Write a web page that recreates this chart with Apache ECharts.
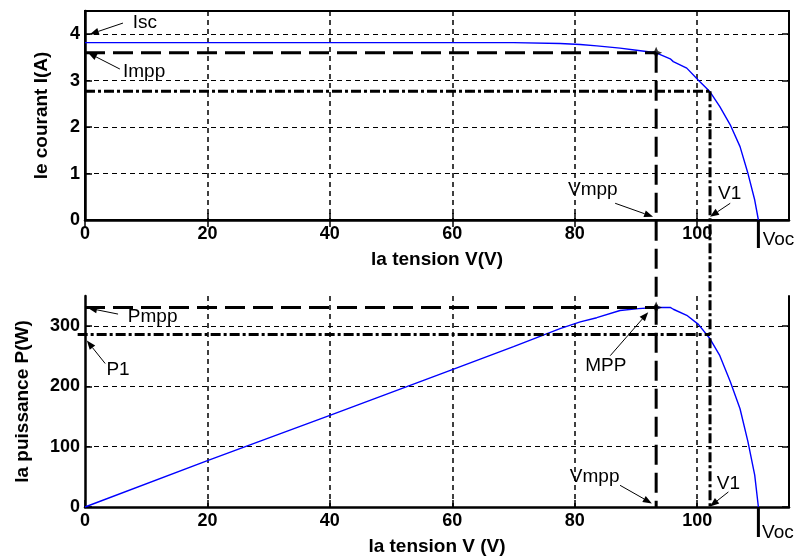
<!DOCTYPE html>
<html>
<head>
<meta charset="utf-8">
<script src="https://cdn.jsdelivr.net/npm/echarts@6/dist/echarts.min.js"></script>
<style>
  html, body { margin: 0; padding: 0; background: #fff; }
  #chart { width: 799px; height: 557px; }
</style>
</head>
<body>
<div id="chart"></div>
<script>
// Photovoltaic module characteristics: I(V) and P(V)
const voltage = [0, 20, 40, 60, 70, 77.6, 80.9, 83.6, 87.4, 90.4, 93.3, 95.6, 96.1, 98.3, 100.2, 102.1, 103.7, 105.4, 107.0, 108.3, 109.4, 110];
const current = [3.82, 3.82, 3.82, 3.82, 3.82, 3.80, 3.78, 3.75, 3.70, 3.65, 3.60, 3.47, 3.41, 3.27, 3.01, 2.76, 2.44, 2.05, 1.58, 1.00, 0.43, 0];
const power   = [0, 77, 152, 228, 266, 296, 307, 314, 326, 329, 331, 331, 328, 318, 303, 279, 251, 208, 163, 108, 53, 0];

const voltageTicks = [0, 20, 40, 60, 80, 100];
const currentTicks = [0, 1, 2, 3, 4];
const powerTicks = [0, 100, 200, 300];

// Operating points
const Vmpp = 93.3, Impp = 3.6, Pmpp = 331;
const V1 = 102.1, I1 = 2.77, P1 = 286;
const Voc = 110;

const FONT = '"Liberation Sans", Arial, Helvetica, sans-serif';
const BLACK = '#000';
const NONE = 'rgba(0,0,0,0)';

function gridLineColors(n) {
  // the line at zero sits on the axis and the one at the axis maximum stays hidden
  const c = [NONE];
  for (let i = 1; i < n; i++) c.push(BLACK);
  c.push(NONE);
  return c;
}

const tickLabel = { color: BLACK, fontFamily: FONT, fontSize: 18, fontWeight: 'bold' };
const nameStyle = { color: BLACK, fontFamily: FONT, fontSize: 19, fontWeight: 'bold' };
const tickStyle = (ticks) => ({ show: true, inside: true, length: 7, customValues: ticks, lineStyle: { color: BLACK, width: 1.5 } });

function mainX(gridIndex, name) {
  return {
    type: 'value', gridIndex, min: 0, max: 115, interval: 20, position: 'bottom',
    name, nameLocation: 'middle', nameGap: 30, nameTextStyle: nameStyle,
    axisLine: { show: true, onZero: false, lineStyle: { color: BLACK, width: 2.5 } },
    axisTick: tickStyle(voltageTicks),
    axisLabel: { ...tickLabel, margin: 5, customValues: voltageTicks, formatter: v => (voltageTicks.includes(v) ? String(v) : '') },
    splitLine: { show: true, lineStyle: { color: gridLineColors(voltageTicks.length), type: [5, 4], width: 1.5 } }
  };
}
function mirrorX(gridIndex) {
  return {
    type: 'value', gridIndex, min: 0, max: 115, interval: 20, position: 'top',
    axisLine: { show: false },
    axisTick: tickStyle(voltageTicks),
    axisLabel: { show: false }, splitLine: { show: false }
  };
}
function mainY(gridIndex, max, interval, ticks, name, nameGap) {
  return {
    type: 'value', gridIndex, min: 0, max, interval, position: 'left',
    name, nameLocation: 'middle', nameGap, nameTextStyle: nameStyle,
    axisLine: { show: true, onZero: false, lineStyle: { color: BLACK, width: 2.5 } },
    axisTick: tickStyle(ticks),
    axisLabel: { ...tickLabel, margin: 5, customValues: ticks, formatter: v => (ticks.includes(v) ? String(v) : '') },
    splitLine: { show: true, lineStyle: { color: gridLineColors(ticks.length), type: [5, 4], width: 1.2 } }
  };
}
function mirrorY(gridIndex, max, interval, ticks, showLine) {
  return {
    type: 'value', gridIndex, min: 0, max, interval, position: 'right',
    axisLine: { show: showLine, onZero: false, lineStyle: { color: BLACK, width: 2 } },
    axisTick: tickStyle(ticks),
    axisLabel: { show: false }, splitLine: { show: false }
  };
}

const mppSymbol = 'path://M0,-6 L1.8,-1.8 L6,0 L1.8,1.8 L0,6 L-1.8,1.8 L-6,0 L-1.8,-1.8 Z';

const option = {
  animation: false,
  backgroundColor: '#fff',
  grid: [
    { left: 85, right: 10, top: 11, height: 209, show: true, borderColor: BLACK, borderWidth: 2, backgroundColor: NONE },
    { left: 85, right: 10, top: 296, height: 211 }
  ],
  xAxis: [mainX(0, 'la tension V(V)'), mirrorX(0), mainX(1, 'la tension V (V)')],
  yAxis: [
    mainY(0, 4.5, 1, currentTicks, 'le courant I(A)', 34),
    mirrorY(0, 4.5, 1, currentTicks, false),
    mainY(1, 350, 100, powerTicks, 'la puissance P(W)', 53),
    mirrorY(1, 350, 100, powerTicks, true)
  ],
  series: [
    {
      type: 'line', xAxisIndex: 0, yAxisIndex: 0,
      data: voltage.map((v, i) => [v, current[i]]),
      showSymbol: false, smooth: false,
      lineStyle: { color: '#0000ff', width: 1.4 }, z: 3
    },
    {
      type: 'scatter', xAxisIndex: 0, yAxisIndex: 0,
      data: [[Vmpp, Impp]], symbol: mppSymbol, symbolSize: 12,
      itemStyle: { color: BLACK }, z: 20
    },
    {
      type: 'line', xAxisIndex: 2, yAxisIndex: 2,
      data: voltage.map((v, i) => [v, power[i]]),
      showSymbol: false, smooth: false,
      lineStyle: { color: '#0000ff', width: 1.4 }, z: 3
    },
    {
      type: 'scatter', xAxisIndex: 2, yAxisIndex: 2,
      data: [[Vmpp, Pmpp]], symbol: mppSymbol, symbolSize: 12,
      itemStyle: { color: BLACK }, z: 20
    }
  ]
};

const chart = echarts.init(document.getElementById('chart'), null, { renderer: 'canvas' });
chart.setOption(option);

// Reference lines and annotations, placed through each plot's own scales
const ivPt = (x, y) => chart.convertToPixel({ seriesIndex: 0 }, [x, y]);
const pvPt = (x, y) => chart.convertToPixel({ seriesIndex: 2 }, [x, y]);

const DASH = [20, 8];
const DASHDOT = [10, 3, 3, 3];

function seg(a, b, dash, width) {
  return {
    type: 'line', silent: true, z: 10,
    shape: { x1: a[0], y1: a[1], x2: b[0], y2: b[1] },
    style: { stroke: BLACK, lineWidth: width, lineDash: dash || null, fill: null }
  };
}
function arrow(tail, tip) {
  const dx = tip[0] - tail[0], dy = tip[1] - tail[1];
  const len = Math.hypot(dx, dy), ux = dx / len, uy = dy / len;
  const hl = 9, hw = 3.5;
  const bx = tip[0] - ux * hl, by = tip[1] - uy * hl;
  return [
    seg(tail, [bx, by], null, 1),
    {
      type: 'polygon', silent: true, z: 10,
      shape: { points: [tip, [bx - uy * hw, by + ux * hw], [bx + uy * hw, by - ux * hw]] },
      style: { fill: BLACK }
    }
  ];
}
function label(p, text) {
  return {
    type: 'text', silent: true, z: 10, x: p[0], y: p[1],
    style: { text, fontFamily: FONT, fontSize: 19, fill: BLACK, align: 'left', verticalAlign: 'middle' }
  };
}
function offset(p, dx, dy) { return [p[0] + dx, p[1] + dy]; }

const graphics = [
  // maximum power point guides
  seg(ivPt(0, Impp), ivPt(Vmpp, Impp), DASH, 3),
  seg(ivPt(Vmpp, Impp), pvPt(Vmpp, 0), DASH, 3),
  seg(pvPt(0, Pmpp), pvPt(Vmpp, Pmpp), DASH, 3),
  // operating point 1 guides
  seg(ivPt(0, I1), ivPt(V1, I1), DASHDOT, 3),
  seg(ivPt(V1, I1), pvPt(V1, 0), DASHDOT, 3),
  seg(pvPt(-1.2, P1), pvPt(V1, P1), DASHDOT, 3),
  // open-circuit voltage markers
  seg(ivPt(Voc, 0), offset(ivPt(Voc, 0), 0, 28), null, 3),
  seg(pvPt(Voc, 0), offset(pvPt(Voc, 0), 0, 30), null, 3),

  // current plot annotations
  label(ivPt(7.8, 4.24), 'Isc'),
  ...arrow(ivPt(6.2, 4.24), ivPt(0.8, 4.0)),
  label(ivPt(6.2, 3.19), 'Impp'),
  ...arrow(ivPt(5.7, 3.25), ivPt(0.5, 3.6)),
  label(ivPt(78.9, 0.65), 'Vmpp'),
  ...arrow(ivPt(86.6, 0.36), ivPt(92.8, 0.07)),
  label(ivPt(103.4, 0.57), 'V1'),
  ...arrow(ivPt(105.4, 0.36), ivPt(102.1, 0.07)),
  label(ivPt(110.7, -0.43), 'Voc'),

  // power plot annotations
  label(pvPt(7.0, 315), 'Pmpp'),
  ...arrow(pvPt(5.4, 320), pvPt(0.5, 330)),
  label(pvPt(3.5, 227), 'P1'),
  ...arrow(pvPt(3.3, 238), pvPt(0.3, 276)),
  label(pvPt(81.7, 235), 'MPP'),
  ...arrow(pvPt(85.8, 251), pvPt(92.0, 323)),
  label(pvPt(79.2, 50), 'Vmpp'),
  ...arrow(pvPt(87.4, 36), pvPt(92.6, 6)),
  label(pvPt(103.2, 39), 'V1'),
  ...arrow(pvPt(105.1, 25), pvPt(102.1, 1)),
  label(pvPt(110.6, -43), 'Voc')
];

chart.setOption({ graphic: graphics });
</script>
</body>
</html>
